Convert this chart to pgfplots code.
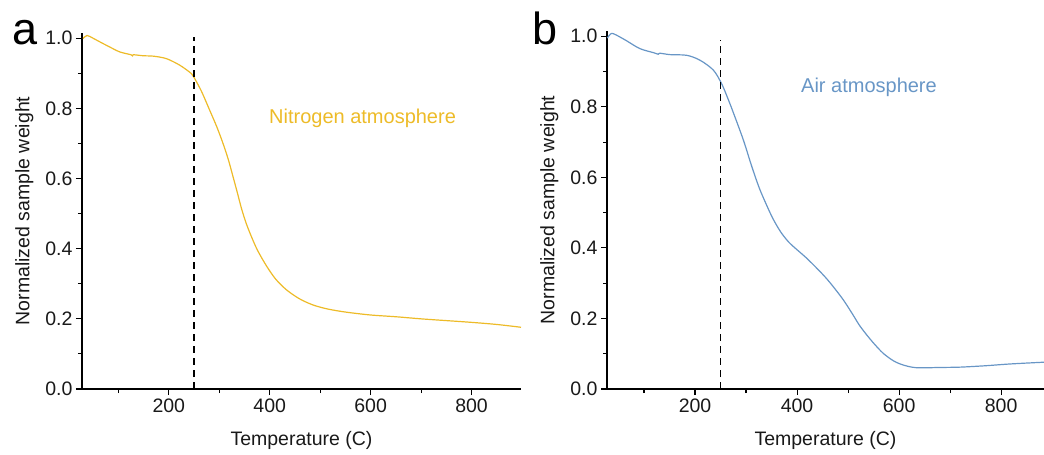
\documentclass[border=0pt]{standalone}
\usepackage{pgfplots}
\pgfplotsset{compat=1.18}
\usepackage{fontspec}
\setmainfont{Liberation Sans}
\definecolor{nyellow}{RGB}{237,187,40}
\definecolor{ablue}{RGB}{104,150,198}
\pgfplotsset{
  tga/.style={
    scale only axis,
    axis lines*=left,
    axis line style={line width=1.3pt, black},
    tick align=outside,
    tick style={line width=1.1pt, black},
    major tick length=6pt,
    minor tick length=4pt,
    ymin=0, ymax=1.015,
    ytick={0,0.2,0.4,0.6,0.8,1.0},
    minor ytick={0.1,0.3,0.5,0.7,0.9},
    xtick={200,400,600,800},
    minor xtick={100,300,500,700,900},
    /pgf/number format/assume math mode=true,
    yticklabel style={/pgf/number format/.cd, fixed, fixed zerofill, precision=1},
    ticklabel style={font=\fontsize{19.5}{22}\selectfont, text=black!90},
    label style={font=\fontsize{19.5}{22}\selectfont, text=black!90},
    xlabel={Temperature (C)},
    ylabel={Normalized sample weight},
    xlabel style={yshift=-12pt},
    ylabel style={yshift=5pt},
    clip=false,
  }
}
\begin{document}
\begin{tikzpicture}[x=1pt,y=1pt]
\useasboundingbox (0,0) rectangle (1044,455);
\begin{axis}[tga, at={(82pt,66pt)}, anchor=south west,
  width=439pt, height=356pt, xmin=28, xmax=898]
\addplot[nyellow, line width=1.2pt, smooth, tension=0.5] coordinates {
(30,0.999)(38,1.008)(50,1.000)(63,0.990)(83,0.975)(103,0.961)(125,0.953)(128,0.950)(130,0.953)(150,0.950)(169,0.949)(195,0.942)(222,0.923)(245,0.899)(251,0.886)(265,0.848)(281,0.795)(295,0.748)(307,0.702)(318,0.654)(327,0.607)(336,0.559)(344,0.515)(353,0.474)(363,0.437)(376,0.395)(394,0.350)(412,0.313)(433,0.283)(458,0.258)(485,0.240)(515,0.228)(552,0.219)(600,0.211)(650,0.206)(700,0.200)(750,0.195)(800,0.190)(850,0.184)(898,0.176)};
\addplot[black, line width=1.4pt, dash pattern=on 7pt off 5pt] coordinates {(250,0)(250,1.003)};
\node[text=nyellow, font=\fontsize{20}{24}\selectfont] at (axis cs:584,0.772) {Nitrogen atmosphere};
\end{axis}
\begin{axis}[tga, at={(607pt,66pt)}, anchor=south west,
  width=437pt, height=358pt, xmin=27.5, xmax=884]
\addplot[ablue, line width=1.2pt, smooth, tension=0.5] coordinates {
(28,0.995)(36,1.008)(45,1.004)(65,0.988)(92,0.965)(120,0.953)(128,0.949)(131,0.952)(151,0.948)(184,0.946)(210,0.932)(236,0.904)(252,0.866)(264,0.825)(275,0.784)(295,0.705)(311,0.632)(327,0.566)(347,0.500)(358,0.469)(370,0.441)(384,0.416)(399,0.396)(418,0.372)(439,0.342)(456,0.316)(471,0.290)(491,0.252)(508,0.214)(524,0.177)(547,0.135)(569,0.101)(590,0.079)(608,0.068)(625,0.062)(641,0.060)(680,0.061)(720,0.062)(770,0.066)(818,0.071)(884,0.076)};
\addplot[black, line width=1.4pt, dash pattern=on 7pt off 5pt] coordinates {(250,0)(250,0.99)};
\node[text=ablue, font=\fontsize{20}{24}\selectfont] at (axis cs:541,0.855) {Air atmosphere};
\end{axis}
\node[anchor=base, font=\fontsize{45}{48}\selectfont] at (25,410) {a};
\node[anchor=base, font=\fontsize{45}{48}\selectfont] at (545,410) {b};
\end{tikzpicture}
\end{document}
